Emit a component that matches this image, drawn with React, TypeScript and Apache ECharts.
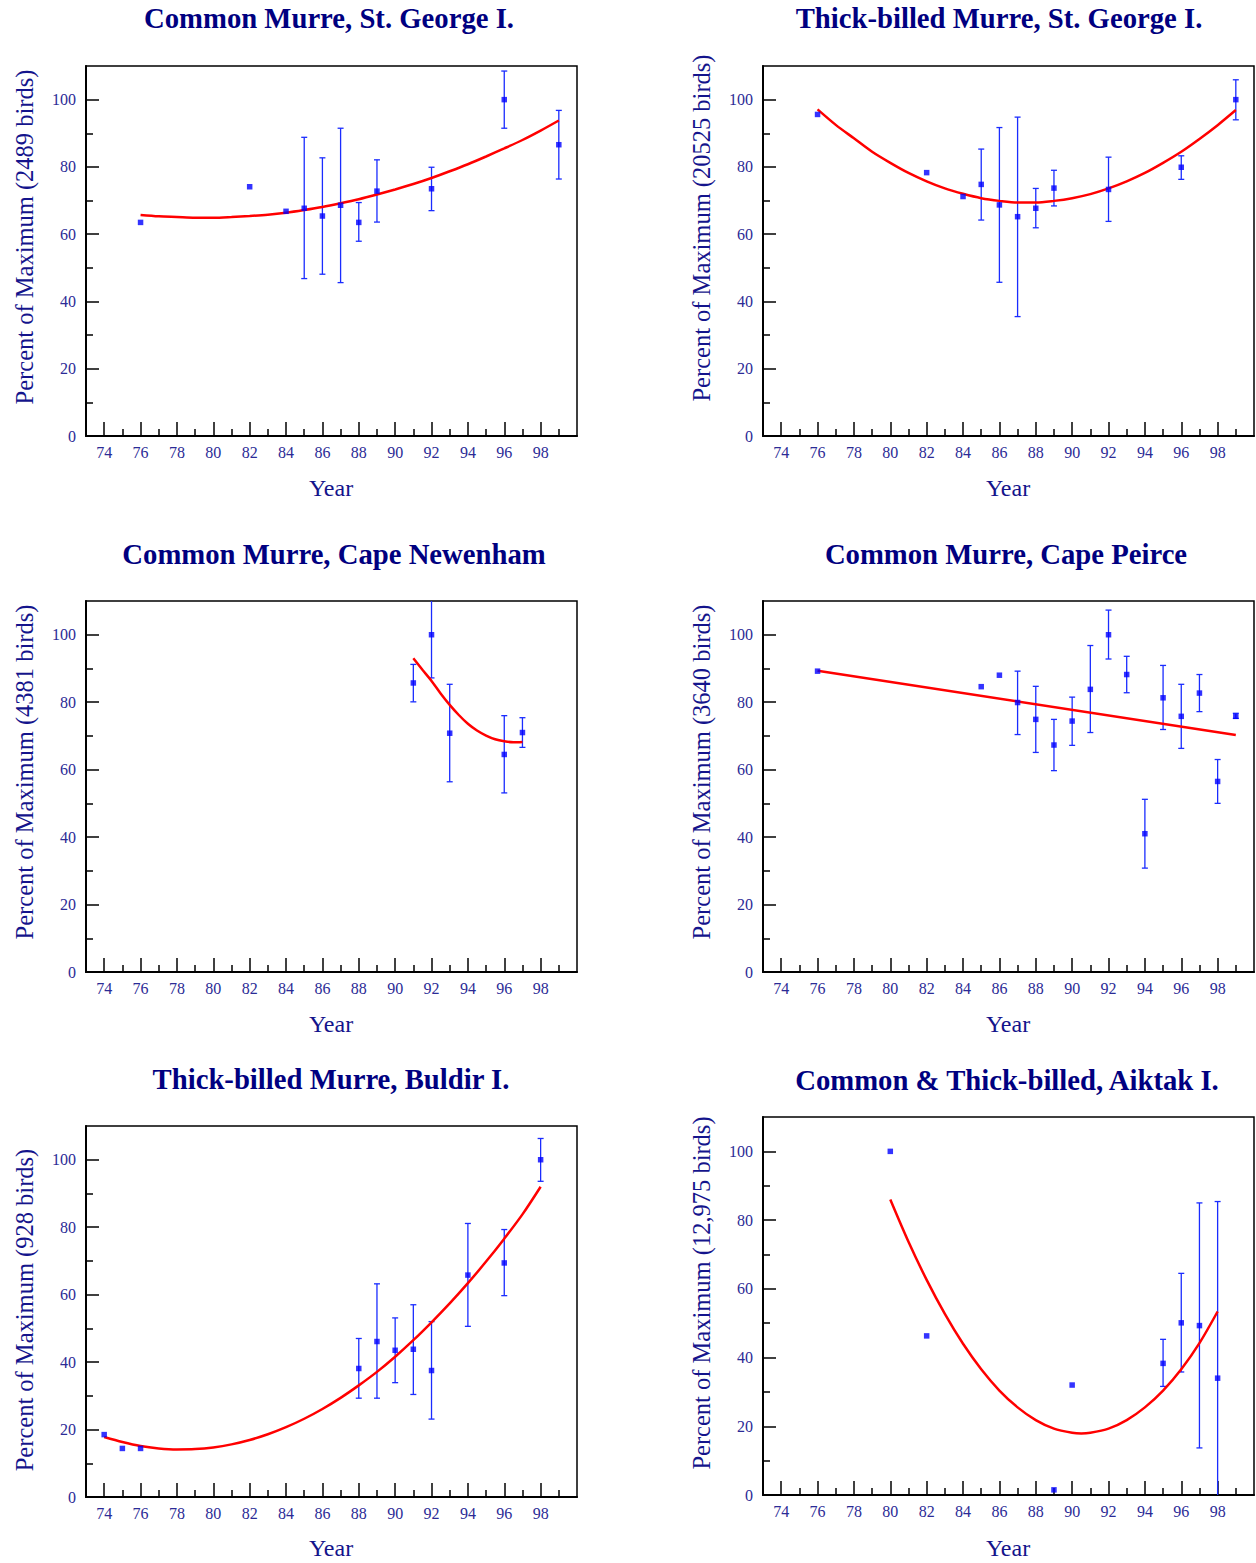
import React, { useEffect, useRef } from "react";
import * as echarts from "echarts";

// ---------- DATA ----------
const titles = [
  "Common Murre, St. George I.",
  "Thick-billed Murre, St. George I.",
  "Common Murre, Cape Newenham",
  "Common Murre, Cape Peirce",
  "Thick-billed Murre, Buldir I.",
  "Common & Thick-billed, Aiktak I.",
];
const yNames = [
  "Percent of Maximum (2489 birds)",
  "Percent of Maximum (20525 birds)",
  "Percent of Maximum (4381 birds)",
  "Percent of Maximum (3640 birds)",
  "Percent of Maximum (928 birds)",
  "Percent of Maximum (12,975 birds)",
];
const xName = "Year";
const xMajorTicks = [74, 76, 78, 80, 82, 84, 86, 88, 90, 92, 94, 96, 98];
const xMinorTicks = [75, 77, 79, 81, 83, 85, 87, 89, 91, 93, 95, 97, 99];
const yMajorTicks = [0, 20, 40, 60, 80, 100];
const yMinorTicks = [10, 30, 50, 70, 90];

// Panel 1: Common Murre, St. George I.
const p1Years = [76, 82, 84, 85, 86, 87, 88, 89, 92, 96, 99];
const p1Values = [63.5, 74.1, 66.8, 67.7, 65.4, 68.6, 63.5, 72.8, 73.5, 100, 86.6];
const p1ErrYears = [85, 86, 87, 88, 89, 92, 96, 99];
const p1ErrLow = [46.8, 48.1, 45.6, 57.9, 63.6, 67.0, 91.5, 76.4];
const p1ErrHigh = [88.8, 82.7, 91.5, 69.4, 82.1, 79.9, 108.5, 96.8];
const p1FitYears = [76, 77, 78, 79, 80, 81, 82, 83, 84, 85, 86, 87, 88, 89, 90, 91, 92, 93, 94, 95, 96, 97, 98, 99];
const p1FitValues = [65.7, 65.3, 65.1, 64.9, 64.9, 65.1, 65.4, 65.8, 66.4, 67.2, 68.1, 69.2, 70.4, 71.8, 73.3, 74.9, 76.7, 78.7, 80.8, 83.1, 85.5, 88.0, 90.8, 93.8];

// Panel 2: Thick-billed Murre, St. George I.
const p2Years = [76, 82, 84, 85, 86, 87, 88, 89, 92, 96, 99];
const p2Values = [95.6, 78.3, 71.2, 74.8, 68.7, 65.2, 67.7, 73.7, 73.3, 79.9, 100];
const p2ErrYears = [85, 86, 87, 88, 89, 92, 96, 99];
const p2ErrLow = [64.2, 45.7, 35.5, 61.9, 68.4, 63.8, 76.3, 94.0];
const p2ErrHigh = [85.3, 91.7, 94.8, 73.6, 79.0, 82.9, 83.3, 105.9];
const p2FitYears = [76, 77, 78, 79, 80, 81, 82, 83, 84, 85, 86, 87, 88, 89, 90, 91, 92, 93, 94, 95, 96, 97, 98, 99];
const p2FitValues = [97.1, 92.5, 88.5, 84.5, 81.2, 78.2, 75.7, 73.6, 72.0, 70.7, 69.9, 69.4, 69.4, 69.9, 70.7, 71.9, 73.6, 75.7, 78.2, 81.2, 84.5, 88.3, 92.4, 96.9];

// Panel 3: Common Murre, Cape Newenham
const p3Years = [91, 92, 93, 96, 97];
const p3Values = [85.7, 100, 70.8, 64.5, 71.0];
const p3ErrYears = [91, 92, 93, 96, 97];
const p3ErrLow = [80.1, 87.2, 56.4, 53.1, 66.6];
const p3ErrHigh = [91.2, 113, 85.3, 76.0, 75.4];
const p3FitYears = [91, 91.5, 92, 92.5, 93, 93.5, 94, 94.5, 95, 95.5, 96, 96.5, 97];
const p3FitValues = [93.0, 89.6, 86.3, 82.6, 79.2, 76.2, 73.6, 71.6, 70.1, 69.0, 68.4, 68.1, 68.2];

// Panel 4: Common Murre, Cape Peirce
const p4Years = [76, 85, 86, 87, 88, 89, 90, 91, 92, 93, 94, 95, 96, 97, 98, 99];
const p4Values = [89.2, 84.6, 88.0, 79.9, 74.9, 67.3, 74.4, 83.8, 100, 88.2, 41.0, 81.3, 75.8, 82.7, 56.5, 75.8];
const p4ErrYears = [87, 88, 89, 90, 91, 92, 93, 94, 95, 96, 97, 98, 99];
const p4ErrLow = [70.4, 65.1, 59.7, 67.2, 71.0, 92.8, 82.8, 30.8, 71.9, 66.3, 77.2, 50.0, 75.2];
const p4ErrHigh = [89.2, 84.7, 74.9, 81.5, 96.8, 107.3, 93.6, 51.2, 90.9, 85.3, 88.2, 63.0, 76.7];
const p4FitYears = [76, 99];
const p4FitValues = [89.3, 70.3];

// Panel 5: Thick-billed Murre, Buldir I.
const p5Years = [74, 75, 76, 88, 89, 90, 91, 92, 94, 96, 98];
const p5Values = [18.5, 14.4, 14.4, 38.1, 46.1, 43.5, 43.8, 37.5, 65.8, 69.4, 100];
const p5ErrYears = [88, 89, 90, 91, 92, 94, 96, 98];
const p5ErrLow = [29.3, 29.3, 33.9, 30.4, 23.1, 50.6, 59.7, 93.6];
const p5ErrHigh = [47.0, 63.2, 53.1, 57.0, 52.0, 81.1, 79.3, 106.3];
const p5FitYears = [74, 75, 76, 77, 78, 79, 80, 81, 82, 83, 84, 85, 86, 87, 88, 89, 90, 91, 92, 93, 94, 95, 96, 97, 98];
const p5FitValues = [17.8, 16.3, 15.1, 14.4, 14.1, 14.2, 14.7, 15.6, 16.9, 18.6, 20.7, 23.2, 26.1, 29.4, 33.1, 37.1, 41.6, 46.5, 51.8, 57.4, 63.4, 69.8, 76.6, 83.8, 92.0];

// Panel 6: Common & Thick-billed, Aiktak I.
const p6Years = [80, 82, 89, 90, 95, 96, 97, 98];
const p6Values = [100, 46.3, 1.5, 32.0, 38.3, 50.1, 49.3, 34.0];
const p6ErrYears = [95, 96, 97, 98];
const p6ErrLow = [31.6, 35.8, 13.7, -17.4];
const p6ErrHigh = [45.3, 64.5, 85.0, 85.4];
const p6FitYears = [80, 81, 82, 83, 84, 85, 86, 87, 88, 89, 90, 90.5, 91, 92, 93, 94, 95, 96, 97, 98];
const p6FitValues = [86.0, 73.7, 62.6, 52.7, 44.0, 36.6, 30.4, 25.5, 21.8, 19.3, 18.1, 17.9, 18.1, 19.3, 21.8, 25.5, 30.4, 36.6, 44.2, 53.4];

const panels = [
  { years: p1Years, values: p1Values, errYears: p1ErrYears, errLow: p1ErrLow, errHigh: p1ErrHigh, fitYears: p1FitYears, fitValues: p1FitValues },
  { years: p2Years, values: p2Values, errYears: p2ErrYears, errLow: p2ErrLow, errHigh: p2ErrHigh, fitYears: p2FitYears, fitValues: p2FitValues },
  { years: p3Years, values: p3Values, errYears: p3ErrYears, errLow: p3ErrLow, errHigh: p3ErrHigh, fitYears: p3FitYears, fitValues: p3FitValues },
  { years: p4Years, values: p4Values, errYears: p4ErrYears, errLow: p4ErrLow, errHigh: p4ErrHigh, fitYears: p4FitYears, fitValues: p4FitValues },
  { years: p5Years, values: p5Values, errYears: p5ErrYears, errLow: p5ErrLow, errHigh: p5ErrHigh, fitYears: p5FitYears, fitValues: p5FitValues },
  { years: p6Years, values: p6Values, errYears: p6ErrYears, errLow: p6ErrLow, errHigh: p6ErrHigh, fitYears: p6FitYears, fitValues: p6FitValues },
];

// ---------- LAYOUT / STYLE ----------
const FONT = "'Liberation Serif', 'Times New Roman', Times, serif";
const TITLE_COLOR = "#000080";
const LABEL_COLOR = "#2b2b96";
const NAME_COLOR = "#14148c";
const POINT_COLOR = "#0000ff";
const ERR_COLOR = "#1a2cff";
const FIT_COLOR = "#ff0000";

const gridBoxes = [
  { left: 86, top: 66, width: 491, height: 370 },
  { left: 763, top: 66, width: 491, height: 370 },
  { left: 86, top: 601, width: 491, height: 371 },
  { left: 763, top: 601, width: 491, height: 371 },
  { left: 86, top: 1126, width: 491, height: 371 },
  { left: 763, top: 1117, width: 491, height: 378 },
];
const titlePos = [
  [329, 18], [999, 18], [334, 554], [1006, 554], [331, 1079], [1007, 1080],
];
const yNamePos = [
  [24, 237], [701, 228], [24, 772], [701, 772], [24, 1310], [701, 1293],
];
const xNamePos = [
  [331, 488], [1008, 488], [331, 1024], [1008, 1024], [331, 1548], [1008, 1548],
];

function buildOption() {
  const grid: any[] = [];
  const xAxis: any[] = [];
  const yAxis: any[] = [];
  const series: any[] = [];
  const graphic: any[] = [];

  panels.forEach((p, i) => {
    grid.push({
      ...gridBoxes[i],
      show: true,
      borderColor: "#000",
      borderWidth: 1.5,
      backgroundColor: "transparent",
      containLabel: false,
    });
    const major = 2 * i;
    const minor = 2 * i + 1;
    xAxis.push({
      type: "value",
      gridIndex: i,
      position: "bottom",
      min: 73,
      max: 100,
      axisLine: { show: true, onZero: false, lineStyle: { color: "#000", width: 2 } },
      axisTick: {
        show: true,
        inside: true,
        length: 14,
        customValues: xMajorTicks,
        lineStyle: { color: "#000", width: 1.5 },
      },
      axisLabel: {
        show: true,
        customValues: xMajorTicks,
        color: LABEL_COLOR,
        fontFamily: FONT,
        fontSize: 16,
        margin: 8,
      },
      splitLine: { show: false },
    });
    xAxis.push({
      type: "value",
      gridIndex: i,
      position: "bottom",
      min: 73,
      max: 100,
      axisLine: { show: false, onZero: false },
      axisTick: {
        show: true,
        inside: true,
        length: 7,
        customValues: xMinorTicks,
        lineStyle: { color: "#000", width: 1.5 },
      },
      axisLabel: { show: false },
      splitLine: { show: false },
    });
    yAxis.push({
      type: "value",
      gridIndex: i,
      position: "left",
      min: 0,
      max: 110,
      axisLine: { show: true, onZero: false, lineStyle: { color: "#000", width: 2 } },
      axisTick: {
        show: true,
        inside: true,
        length: 13,
        customValues: yMajorTicks,
        lineStyle: { color: "#000", width: 1.5 },
      },
      axisLabel: {
        show: true,
        customValues: yMajorTicks,
        color: LABEL_COLOR,
        fontFamily: FONT,
        fontSize: 16,
        margin: 10,
      },
      splitLine: { show: false },
    });
    yAxis.push({
      type: "value",
      gridIndex: i,
      position: "left",
      min: 0,
      max: 110,
      axisLine: { show: false, onZero: false },
      axisTick: {
        show: true,
        inside: true,
        length: 7,
        customValues: yMinorTicks,
        lineStyle: { color: "#000", width: 1.5 },
      },
      axisLabel: { show: false },
      splitLine: { show: false },
    });

    series.push({
      type: "custom",
      xAxisIndex: major,
      yAxisIndex: major,
      clip: true,
      silent: true,
      z: 3,
      data: p.errYears.map((y, k) => [y, p.errLow[k], p.errHigh[k]]),
      renderItem: (params: any, api: any) => {
        const x = api.value(0);
        const lo = api.coord([x, api.value(1)]);
        const hi = api.coord([x, api.value(2)]);
        const cw = 3;
        const st = { stroke: ERR_COLOR, lineWidth: 1.3 };
        return {
          type: "group",
          children: [
            { type: "line", shape: { x1: lo[0], y1: lo[1], x2: hi[0], y2: hi[1] }, style: st },
            { type: "line", shape: { x1: lo[0] - cw, y1: lo[1], x2: lo[0] + cw, y2: lo[1] }, style: st },
            { type: "line", shape: { x1: hi[0] - cw, y1: hi[1], x2: hi[0] + cw, y2: hi[1] }, style: st },
          ],
        };
      },
    });
    series.push({
      type: "line",
      xAxisIndex: major,
      yAxisIndex: major,
      data: p.fitYears.map((y, k) => [y, p.fitValues[k]]),
      smooth: 0.3,
      showSymbol: false,
      symbol: "none",
      silent: true,
      z: 4,
      lineStyle: { color: FIT_COLOR, width: 2.5 },
    });
    series.push({
      type: "scatter",
      xAxisIndex: major,
      yAxisIndex: major,
      data: p.years.map((y, k) => [y, p.values[k]]),
      symbol: "rect",
      symbolSize: 5.5,
      silent: true,
      z: 5,
      itemStyle: { color: POINT_COLOR },
    });
    series.push({
      type: "line",
      xAxisIndex: minor,
      yAxisIndex: minor,
      data: [],
      silent: true,
    });

    graphic.push({
      type: "text",
      x: titlePos[i][0],
      y: titlePos[i][1],
      style: {
        text: titles[i],
        fill: TITLE_COLOR,
        fontFamily: FONT,
        fontWeight: "bold",
        fontSize: 28.7,
        textAlign: "center",
        textVerticalAlign: "middle",
      },
    });
    graphic.push({
      type: "text",
      x: yNamePos[i][0],
      y: yNamePos[i][1],
      rotation: Math.PI / 2,
      style: {
        text: yNames[i],
        fill: NAME_COLOR,
        fontFamily: FONT,
        fontSize: 24.5,
        textAlign: "center",
        textVerticalAlign: "middle",
      },
    });
    graphic.push({
      type: "text",
      x: xNamePos[i][0],
      y: xNamePos[i][1],
      style: {
        text: xName,
        fill: NAME_COLOR,
        fontFamily: FONT,
        fontSize: 24,
        textAlign: "center",
        textVerticalAlign: "middle",
      },
    });
  });

  return {
    animation: false,
    backgroundColor: "#ffffff",
    grid,
    xAxis,
    yAxis,
    series,
    graphic,
  };
}

export default function App() {
  const ref = useRef<HTMLDivElement>(null);
  useEffect(() => {
    if (!ref.current) return;
    const chart = echarts.init(ref.current, undefined, { renderer: "svg" });
    chart.setOption(buildOption());
    return () => {
      chart.dispose();
    };
  }, []);
  return (
    <div
      ref={ref}
      style={{ position: "absolute", left: 0, top: 0, width: 1256, height: 1563 }}
    />
  );
}
